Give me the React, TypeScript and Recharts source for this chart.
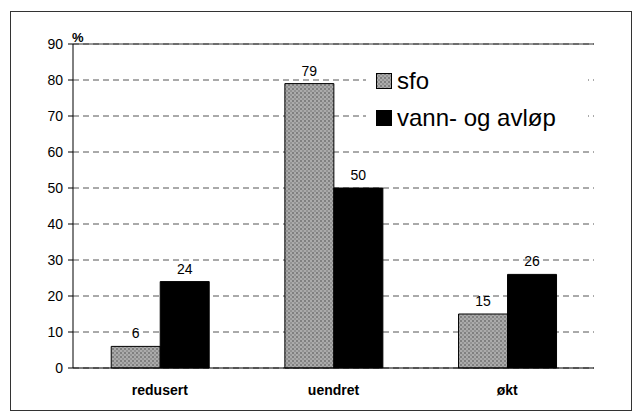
import { BarChart, Bar, XAxis, YAxis, CartesianGrid, LabelList, ReferenceLine } from 'recharts'

const categories = ['redusert', 'uendret', 'økt']
const sfoValues = [6, 79, 15]
const vannValues = [24, 50, 26]
const yTicks = [0, 10, 20, 30, 40, 50, 60, 70, 80, 90]

const data = categories.map((kategori, i) => ({
  kategori,
  sfo: sfoValues[i],
  vann: vannValues[i],
}))

const font = '"Liberation Sans", Arial, sans-serif'

export default function App() {
  return (
    <div style={{ position: 'absolute', left: 0, top: 0, width: 640, height: 417, background: '#fff', fontFamily: font }}>
      {/* mønster for de grå søylene */}
      <svg width="0" height="0" style={{ position: 'absolute' }}>
        <defs>
          <pattern id="sfoPat" width="4" height="4" patternUnits="userSpaceOnUse">
            <rect width="4" height="4" fill="#ababab" />
            <rect x="0" y="0" width="2" height="2" fill="#808080" />
            <rect x="2" y="2" width="2" height="2" fill="#929292" />
          </pattern>
        </defs>
      </svg>

      {/* ytre ramme */}
      <div style={{ position: 'absolute', left: 10, top: 11, width: 620, height: 398, border: '1px solid #333' }} />

      <BarChart
        width={640}
        height={417}
        data={data}
        margin={{ top: 44, right: 46, bottom: 19, left: 0 }}
        barCategoryGap="22%"
        barGap={0}
        style={{ position: 'absolute', left: 0, top: 0 }}
      >
        <CartesianGrid vertical={false} stroke="#555" strokeDasharray="6 4" />
        <XAxis
          dataKey="kategori"
          height={30}
          axisLine={{ stroke: '#000' }}
          tickLine={false}
          tickSize={0}
          tickMargin={17}
          tick={{ fontSize: 14, fontWeight: 'bold', fill: '#000', fontFamily: font }}
        />
        <YAxis
          width={73}
          domain={[0, 90]}
          ticks={yTicks}
          interval={0}
          axisLine={{ stroke: '#000' }}
          tickLine={{ stroke: '#000' }}
          tickSize={5}
          tickMargin={5}
          tick={{ fontSize: 14, fill: '#000', fontFamily: font }}
        />
        <YAxis
          yAxisId="right"
          orientation="right"
          width={0}
          domain={[0, 90]}
          tick={false}
          tickLine={false}
          axisLine={{ stroke: '#555' }}
        />
        <ReferenceLine y={90} stroke="#333" />
        <Bar dataKey="sfo" fill="url(#sfoPat)" stroke="#000" strokeWidth={1} isAnimationActive={false}>
          <LabelList dataKey="sfo" position="top" offset={8} fill="#000" fontSize={14} fontFamily={font} />
        </Bar>
        <Bar dataKey="vann" fill="#000" stroke="#000" strokeWidth={1} isAnimationActive={false}>
          <LabelList dataKey="vann" position="top" offset={8} fill="#000" fontSize={14} fontFamily={font} />
        </Bar>
      </BarChart>

      <div style={{ position: 'absolute', left: 72, top: 30, fontSize: 13, fontWeight: 'bold' }}>%</div>

      {/* forklaring */}
      <div style={{ position: 'absolute', left: 366, top: 62, width: 222, height: 78, background: '#fff' }}>
        {[
          { name: 'sfo', fill: 'url(#sfoPat)', top: 5 },
          { name: 'vann- og avløp', fill: '#000', top: 42 },
        ].map((item) => (
          <div key={item.name} style={{ position: 'absolute', left: 10, top: item.top, height: 28, display: 'flex', alignItems: 'center' }}>
            <svg width="16" height="16" style={{ marginRight: 5 }}>
              <rect x="0.5" y="0.5" width="15" height="15" fill={item.fill} stroke="#000" />
            </svg>
            <span style={{ fontSize: 24, color: '#000', lineHeight: '28px' }}>{item.name}</span>
          </div>
        ))}
      </div>
    </div>
  )
}
